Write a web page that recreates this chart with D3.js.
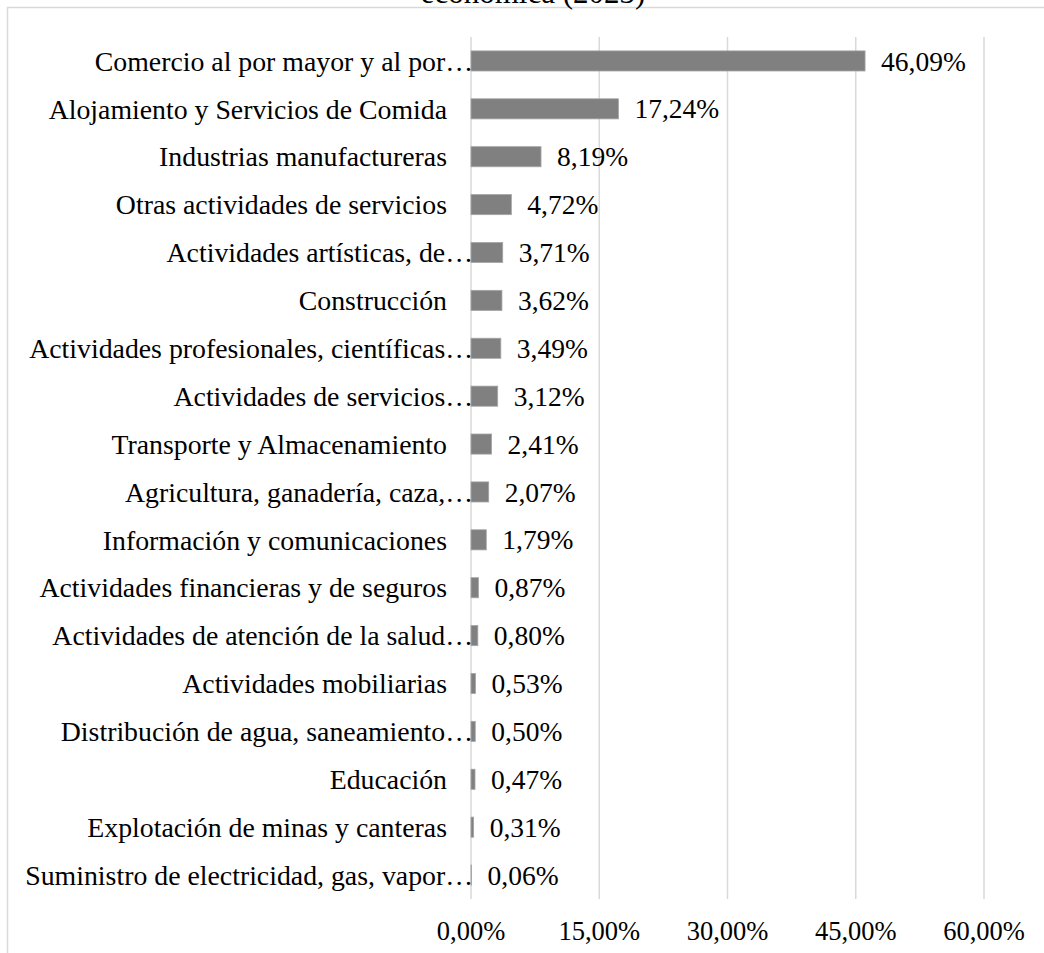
<!DOCTYPE html>
<html>
<head>
<meta charset="utf-8">
<script src="https://cdn.jsdelivr.net/npm/d3@7"></script>
<style>
  body { margin: 0; background: #fff; }
  svg { display: block; }
</style>
</head>
<body>
<div id="chart"></div>
<script>
var categories = [
    "Comercio al por mayor y al por…",
    "Alojamiento y Servicios de Comida",
    "Industrias manufactureras",
    "Otras actividades de servicios",
    "Actividades artísticas, de…",
    "Construcción",
    "Actividades profesionales, científicas…",
    "Actividades de servicios…",
    "Transporte y Almacenamiento",
    "Agricultura, ganadería, caza,…",
    "Información y comunicaciones",
    "Actividades financieras y de seguros",
    "Actividades de atención de la salud…",
    "Actividades mobiliarias",
    "Distribución de agua, saneamiento…",
    "Educación",
    "Explotación de minas y canteras",
    "Suministro de electricidad, gas, vapor…"
];
var values = [46.09, 17.24, 8.19, 4.72, 3.71, 3.62, 3.49, 3.12, 2.41, 2.07,
              1.79, 0.87, 0.80, 0.53, 0.50, 0.47, 0.31, 0.06];
var tickValues = [0, 15, 30, 45, 60];
var titleText = "económica (2023)";

var width = 1044, height = 953;
var serif = "'Liberation Serif', 'Times New Roman', Times, 'DejaVu Serif', serif";
var fmt = function(v) { return v.toFixed(2).replace(".", ",") + "%"; };

var svg = d3.select("#chart").append("svg")
    .attr("width", width)
    .attr("height", height)
    .attr("font-family", serif);

// chart area border (runs off the right and bottom of the picture)
svg.append("rect")
    .attr("x", 7.5).attr("y", 7.5)
    .attr("width", 1200).attr("height", 1200)
    .attr("fill", "none")
    .attr("stroke", "#d9d9d9")
    .attr("stroke-width", 1.5);

// only the bottom of the second title line is visible
svg.append("text")
    .attr("x", 533)
    .attr("y", 3)
    .attr("text-anchor", "middle")
    .attr("font-size", "31px")
    .text(titleText);

var x = d3.scaleLinear().domain([0, 60]).range([471, 984]);
var y = d3.scaleBand()
    .domain(categories)
    .range([37, 899])
    .paddingInner(0.58)
    .paddingOuter(0.29);

// grid lines
svg.selectAll("line.grid").data(tickValues).enter()
    .append("line")
    .attr("class", "grid")
    .attr("x1", function(d) { return x(d); })
    .attr("x2", function(d) { return x(d); })
    .attr("y1", 37)
    .attr("y2", 899)
    .attr("stroke", "#d9d9d9")
    .attr("stroke-width", 1.5);

// tick labels
svg.selectAll("text.tick").data(tickValues).enter()
    .append("text")
    .attr("class", "tick")
    .attr("x", function(d) { return x(d); })
    .attr("y", 940)
    .attr("text-anchor", "middle")
    .attr("font-size", "26.5px")
    .text(function(d) { return fmt(d); });

// bars
svg.selectAll("rect.bar").data(values).enter()
    .append("rect")
    .attr("class", "bar")
    .attr("x", x(0))
    .attr("y", function(d, i) { return y(categories[i]); })
    .attr("width", function(d) { return x(d) - x(0); })
    .attr("height", y.bandwidth())
    .attr("fill", "#808080")
    .attr("stroke", "#a6a6a6")
    .attr("stroke-width", 0.8);

// category labels (truncated ones let the ellipsis run up to the axis)
svg.selectAll("text.cat").data(categories).enter()
    .append("text")
    .attr("class", "cat")
    .attr("x", function(d) { return d.slice(-1) === "…" ? 473 : 447; })
    .attr("y", function(d) { return y(d) + y.bandwidth() / 2; })
    .attr("dy", "0.35em")
    .attr("text-anchor", "end")
    .attr("font-size", "27.8px")
    .text(function(d) { return d; });

// value labels
svg.selectAll("text.val").data(values).enter()
    .append("text")
    .attr("class", "val")
    .attr("x", function(d) { return x(d) + 16; })
    .attr("y", function(d, i) { return y(categories[i]) + y.bandwidth() / 2; })
    .attr("dy", "0.35em")
    .attr("font-size", "27.5px")
    .text(function(d) { return fmt(d); });
</script>
</body>
</html>
